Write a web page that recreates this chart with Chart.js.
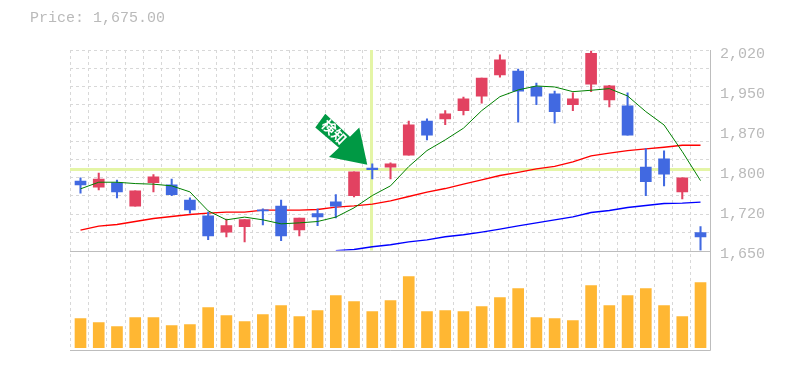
<!DOCTYPE html>
<html>
<head>
<meta charset="utf-8">
<style>html,body{margin:0;padding:0;background:#fff}canvas{display:block}</style>
<script src="https://cdn.jsdelivr.net/npm/chart.js@4"></script>
</head>
<body>
<canvas id="c" width="785" height="370"></canvas>
<script>
const priceTitle = 'Price: 1,675.00';
const signalText = '検知';
const tickIndexes = [4, 9, 14, 19, 24, 29, 34];
const tickDates = ['1/22', '1/29', '2/5', '2/13', '2/20', '3/2', '3/9'];
const priceTicks = [2020, 1946, 1872, 1798, 1724, 1650];
const priceTickLabels = ['2,020', '1,950', '1,870', '1,800', '1,720', '1,650'];
const priceMin = 1650, priceMax = 2020;

const opens  = [1778,1767,1775,1732,1775,1771,1743,1714,1684,1694,1725,1732,1688,1718,1740,1751,1802,1804,1826,1889,1893,1908,1935,1974,1981,1952,1939,1919,1957,1928,1917,1804,1819,1758,1683];
const closes = [1771,1782,1758,1760,1786,1753,1725,1677,1696,1707,1723,1677,1710,1712,1732,1795,1799,1810,1882,1863,1902,1930,1968,2002,1944,1935,1906,1930,2014,1954,1863,1777,1791,1784,1675];
const highs  = [1784,1793,1780,1760,1790,1782,1747,1721,1708,1707,1727,1743,1710,1727,1753,1795,1810,1812,1889,1893,1908,1933,1968,2011,1985,1959,1944,1941,2018,1955,1941,1838,1834,1784,1694];
const lows   = [1756,1762,1747,1732,1758,1751,1719,1670,1675,1666,1697,1668,1677,1696,1710,1749,1782,1782,1826,1854,1882,1900,1922,1970,1887,1919,1885,1908,1943,1915,1863,1751,1769,1745,1650];
const maShort = [1763.8,1776,1776,1773.5,1772.4,1769.3,1758.2,1723.2,1706.6,1711.6,1706.6,1699.2,1701,1703.5,1711.6,1728.7,1751.4,1769.3,1804.9,1834.4,1854.1,1875.7,1908.1,1933.9,1946.3,1953.6,1951.8,1943.1,1945.7,1948.7,1935.2,1906.3,1881.7,1832.5,1779];
const maMid = [1687.6,1695,1697.9,1703.5,1709,1712.7,1716.4,1719,1720.8,1720.8,1724.5,1724.5,1724.5,1725.6,1730,1732.4,1735.6,1741.6,1749.6,1757.7,1764.3,1772.4,1780.4,1788.3,1794.2,1800.6,1805.2,1813.5,1824.6,1829.6,1834.4,1837.5,1840.6,1844.3,1844.3];
const maLong = [null,null,null,null,null,null,null,null,null,null,null,null,null,null,1649.5,1651.8,1656.8,1660.5,1666,1669.7,1675.3,1679,1683.9,1689.4,1695.5,1701,1706.6,1712.1,1720.1,1723.8,1729.3,1733,1736.7,1737.4,1739.3];
const volumes = [290,250,210,300,300,220,230,400,320,260,330,420,310,370,520,460,360,470,710,360,370,360,410,500,590,300,290,270,620,420,520,590,420,310,650];
const crossIndex = 16, crossPrice = 1800;

const RED = '#e24261', BLUE = '#4169e1', ORANGE = '#ffb733', AXIS = '#bdbdbd', GRID = '#d8d8d8', TEXT = '#bababa';
const idx = opens.map((_, i) => i);
const candleColors = idx.map(i => closes[i] >= opens[i] ? RED : BLUE);

const crisp = {
  id: 'extras',
  beforeDatasetsDraw(chart) {
    const { ctx, chartArea: a, scales: { x, y, vol } } = chart;
    ctx.save();
    ctx.strokeStyle = '#e4f5a6';
    ctx.lineWidth = 3;
    const cx = Math.round(x.getPixelForValue(crossIndex)) - 0.5, cy = Math.round(y.getPixelForValue(crossPrice)) + 0.5;
    ctx.beginPath();
    ctx.moveTo(a.left, cy); ctx.lineTo(a.right, cy);
    ctx.moveTo(cx, a.top); ctx.lineTo(cx, y.bottom);
    ctx.stroke();
    ctx.strokeStyle = AXIS;
    ctx.lineWidth = 1;
    ctx.beginPath();
    const by = Math.round(y.bottom) + 0.5, vy = Math.round(vol.bottom) + 0.5, rx = Math.round(a.right) + 0.5;
    ctx.moveTo(a.left, by); ctx.lineTo(rx, by);
    ctx.moveTo(a.left, vy); ctx.lineTo(rx, vy);
    ctx.moveTo(rx, a.top); ctx.lineTo(rx, vy);
    ctx.stroke();
    ctx.restore();
  },
  afterDraw(chart) {
    const { ctx, scales: { x, y } } = chart;
    ctx.save();
    ctx.fillStyle = TEXT;
    ctx.font = '15px "Liberation Mono"';
    ctx.textBaseline = 'middle';
    ctx.textAlign = 'left';
    ctx.fillText(priceTitle, 30, 18);

    const tx = x.getPixelForValue(crossIndex) - 5, ty = y.getPixelForValue(highs[crossIndex]) + 1;
    ctx.translate(tx, ty);
    ctx.fillStyle = '#009944';
    ctx.beginPath();
    [[0,0],[-8,-37.3],[-17.3,-28],[-42,-51],[-52,-37.3],[-28.3,-17],[-38.3,-7.7]].forEach((p, i) => i ? ctx.lineTo(p[0], p[1]) : ctx.moveTo(p[0], p[1]));
    ctx.closePath();
    ctx.fill();
    ctx.translate(-33, -33);
    ctx.rotate(Math.PI / 4);
    ctx.fillStyle = '#fff';
    ctx.font = 'bold 14px "Noto Sans CJK JP"';
    ctx.textAlign = 'center';
    ctx.fillText(signalText, 0, 0);
    ctx.restore();
  }
};

new Chart(document.getElementById('c'), {
  data: {
    datasets: [
      { type: 'bar', yAxisID: 'vol', data: idx.map(i => ({ x: i, y: volumes[i] })), backgroundColor: ORANGE, barThickness: 11, grouped: false, order: 5 },
      { type: 'line', yAxisID: 'y', data: idx.map(i => ({ x: i, y: maLong[i] })), borderColor: '#0000ff', borderWidth: 1.4, pointRadius: 0, tension: 0, order: 4 },
      { type: 'line', yAxisID: 'y', data: idx.map(i => ({ x: i, y: maMid[i] })), borderColor: '#ff0000', borderWidth: 1.4, pointRadius: 0, tension: 0, order: 3 },
      { type: 'bar', yAxisID: 'y', data: idx.map(i => ({ x: i, y: [lows[i], highs[i]] })), backgroundColor: candleColors, barThickness: 1.4, grouped: false, order: 2 },
      { type: 'bar', yAxisID: 'y', data: idx.map(i => ({ x: i, y: [Math.min(opens[i], closes[i]), Math.max(opens[i], closes[i])] })), backgroundColor: candleColors, barThickness: 11, grouped: false, order: 1 },
      { type: 'line', yAxisID: 'y', data: idx.map(i => ({ x: i, y: maShort[i] })), borderColor: '#008000', borderWidth: 1, pointRadius: 0, tension: 0, order: 0 }
    ]
  },
  plugins: [crisp],
  options: {
    responsive: false,
    animation: false,
    parsing: { xAxisKey: 'x', yAxisKey: 'y' },
    layout: { padding: { left: 70, top: 50, right: 0, bottom: 20 } },
    plugins: { legend: { display: false }, tooltip: { enabled: false }, title: { display: false } },
    scales: {
      x: {
        type: 'linear', position: 'bottom', min: -0.576, max: 34.52, offset: false,
        afterFit(s) { s.height = 0; },
        afterBuildTicks(s) {
          const grid = idx.map(i => ({ value: i - 0.55 }));
          s.ticks = grid.concat(tickIndexes.map(i => ({ value: i })));
        },
        border: { display: false, dash: [3, 3] },
        grid: { offset: false, drawTicks: false, lineWidth: 1, color: c => c.index < idx.length ? GRID : 'rgba(0,0,0,0)' },
        ticks: {
          autoSkip: false, maxRotation: 0, minRotation: 0, padding: -94, color: TEXT,
          font: { family: 'Liberation Mono', size: 12 },
          callback(v) { const k = tickIndexes.indexOf(v); return k >= 0 ? tickDates[k] : ''; }
        }
      },
      y: {
        type: 'linear', position: 'right', stack: 'panes', stackWeight: 200.5, min: priceMin, max: priceMax,
        afterFit(s) { s.width = 75; },
        afterBuildTicks(s) {
          const step = (priceMax - priceMin) / 11, grid = [];
          for (let k = 0; k <= 10; k++) grid.push({ value: priceMax - k * step });
          s.ticks = grid.concat(priceTicks.map(v => ({ value: v })));
        },
        border: { display: false, dash: [3, 3] },
        grid: { drawTicks: false, lineWidth: 1, color: c => c.index <= 10 ? GRID : 'rgba(0,0,0,0)' },
        ticks: {
          autoSkip: false, padding: 10, labelOffset: 4, color: TEXT, align: 'center', crossAlign: 'near',
          font: { family: 'Liberation Mono', size: 15 },
          callback(v, i) { return i > 10 ? priceTickLabels[priceTicks.indexOf(v)] : ''; }
        }
      },
      vol: {
        type: 'linear', position: 'right', stack: 'panes', stackWeight: 99.5, min: -23, max: 972,
        afterFit(s) { s.width = 75; },
        border: { display: false },
        grid: { display: false },
        ticks: { display: false }
      }
    }
  }
});
</script>
</body>
</html>
